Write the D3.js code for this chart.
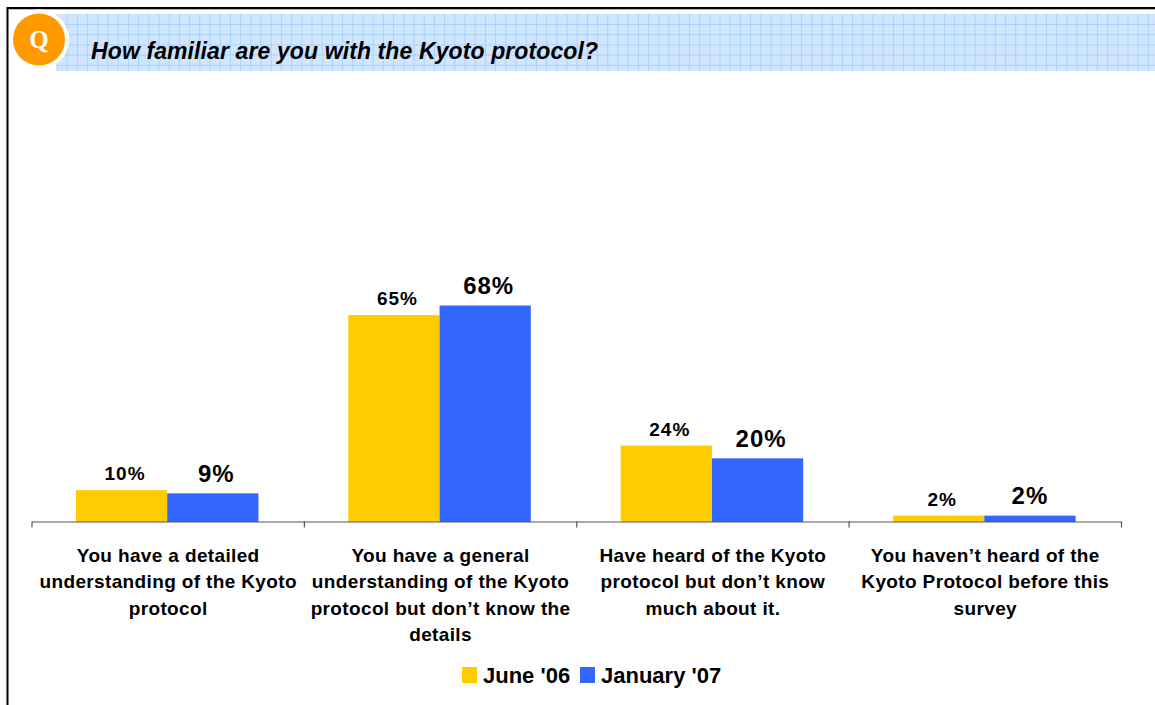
<!DOCTYPE html>
<html>
<head>
<meta charset="utf-8">
<script src="https://cdn.jsdelivr.net/npm/d3@7"></script>
<style>
  html, body { margin: 0; padding: 0; background: white; overflow: hidden; }
  text { font-family: "Liberation Sans", Arial, sans-serif; fill: #000; }
</style>
</head>
<body>
<div id="chart"></div>
<script>
// Chart data
const categories = [
  ["You have a detailed", "understanding of the Kyoto", "protocol"],
  ["You have a general", "understanding of the Kyoto", "protocol but don\u2019t know the", "details"],
  ["Have heard of the Kyoto", "protocol but don\u2019t know", "much about it."],
  ["You haven\u2019t heard of the", "Kyoto Protocol before this", "survey"]
];
const seriesNames = ["June '06", "January '07"];
const june06 = [10, 65, 24, 2];
const january07 = [9, 68, 20, 2];
const seriesColors = ["#ffcc00", "#3366ff"];

const width = 1155;
const height = 705;
const axisY = 522;

const svg = d3.select("#chart")
  .append("svg")
  .attr("width", width)
  .attr("height", height)
  .style("display", "block");

// Header band with its grid
const band = svg.append("g");
band.append("rect")
  .attr("x", 57).attr("y", 14)
  .attr("width", width - 57).attr("height", 57)
  .attr("fill", "#d0e6ff");
band.selectAll(".gridV")
  .data(d3.range(57, width, 10.2))
  .enter().append("line")
  .attr("x1", d => d).attr("x2", d => d)
  .attr("y1", 14).attr("y2", 71)
  .attr("stroke", "#a8d2fb").attr("stroke-width", 1);
band.selectAll(".gridH")
  .data(d3.range(24.5, 71, 10.2))
  .enter().append("line")
  .attr("x1", 57).attr("x2", width)
  .attr("y1", d => d).attr("y2", d => d)
  .attr("stroke", "#a8d2fb").attr("stroke-width", 1);

// Frame
svg.append("line")
  .attr("x1", 7).attr("x2", width).attr("y1", 8).attr("y2", 8)
  .attr("stroke", "#000").attr("stroke-width", 2);
svg.append("line")
  .attr("x1", 9).attr("x2", width).attr("y1", 9.5).attr("y2", 9.5)
  .attr("stroke", "#bbb").attr("stroke-width", 1);
svg.append("line")
  .attr("x1", 7.5).attr("x2", 7.5).attr("y1", 7).attr("y2", height)
  .attr("stroke", "#000").attr("stroke-width", 2);

// Q badge
svg.append("circle").attr("cx", 39).attr("cy", 39.5).attr("r", 30).attr("fill", "white");
svg.append("circle").attr("cx", 39).attr("cy", 39.5).attr("r", 26).attr("fill", "#ff9900");
svg.append("text")
  .attr("x", 39).attr("y", 48)
  .attr("text-anchor", "middle")
  .style("font-family", "'Liberation Serif', serif")
  .style("font-weight", "bold")
  .style("font-size", "25px")
  .style("fill", "white")
  .text("Q");

svg.append("text")
  .attr("x", 91).attr("y", 59)
  .style("font-size", "23px")
  .style("font-weight", "bold")
  .style("font-style", "italic")
  .style("letter-spacing", "0.11px")
  .text("How familiar are you with the Kyoto protocol?");

// Scales
const xScale = d3.scaleBand()
  .domain(d3.range(categories.length))
  .range([31, 1120.5])
  .paddingInner(0)
  .paddingOuter(0);
const barScale = d3.scaleBand()
  .domain(d3.range(seriesNames.length))
  .range([xScale.bandwidth() * 0.165, xScale.bandwidth() * 0.835]);
const yScale = d3.scaleLinear()
  .domain([0, 68])
  .range([axisY, 305.5]);

// Bars and value labels
[june06, january07].forEach((values, s) => {
  svg.selectAll(".bar" + s)
    .data(values)
    .enter().append("rect")
    .attr("x", (d, i) => xScale(i) + barScale(s))
    .attr("y", d => yScale(d))
    .attr("width", barScale.bandwidth())
    .attr("height", d => axisY - yScale(d))
    .attr("fill", seriesColors[s]);

  svg.selectAll(".value" + s)
    .data(values)
    .enter().append("text")
    // last blue label sits a bit left of the others in the original
    .attr("x", (d, i) => xScale(i) + barScale(s) + barScale.bandwidth() / 2 + (s === 0 ? 3.5 : (i === 3 ? 0 : 3.5)))
    .attr("y", d => yScale(d) - (s === 0 ? 10 : 11.5))
    .attr("text-anchor", "middle")
    .style("font-size", s === 0 ? "19px" : "24px")
    .style("font-weight", "bold")
    .style("letter-spacing", "1px")
    .text(d => d + "%");
});

// Axis with ticks between the categories
const tickScale = d3.scaleLinear()
  .domain([0, categories.length])
  .range([31.5, 1121]);
const xAxis = d3.axisBottom(tickScale)
  .tickValues(d3.range(categories.length + 1))
  .tickFormat("")
  .tickSize(6)
  .tickSizeOuter(0);
const axisGroup = svg.append("g")
  .attr("transform", "translate(0," + (axisY - 0.5) + ")")
  .call(xAxis);
axisGroup.select(".domain").attr("stroke", "#555").attr("stroke-width", 1.2);
axisGroup.selectAll("line").attr("stroke", "#555").attr("stroke-width", 1.2);

// Category labels
categories.forEach((lines, i) => {
  const label = svg.append("text")
    .attr("text-anchor", "middle")
    .style("font-size", "19px")
    .style("font-weight", "bold")
    .style("letter-spacing", "0.36px");
  label.selectAll("tspan")
    .data(lines)
    .enter().append("tspan")
    .attr("x", xScale(i) + xScale.bandwidth() / 2 + 1)
    .attr("y", (d, j) => 561.5 + j * 26.5)
    .text(d => d);
});

// Legend
const legendX = [462, 580];
const legend = svg.selectAll(".legend")
  .data(seriesNames)
  .enter().append("g");
legend.append("rect")
  .attr("x", (d, i) => legendX[i])
  .attr("y", 667)
  .attr("width", 15).attr("height", 16)
  .attr("fill", (d, i) => seriesColors[i]);
legend.append("text")
  .attr("x", (d, i) => legendX[i] + 21)
  .attr("y", 683)
  .style("font-size", "22px")
  .style("font-weight", "bold")
  .text(d => d);
</script>
</body>
</html>
